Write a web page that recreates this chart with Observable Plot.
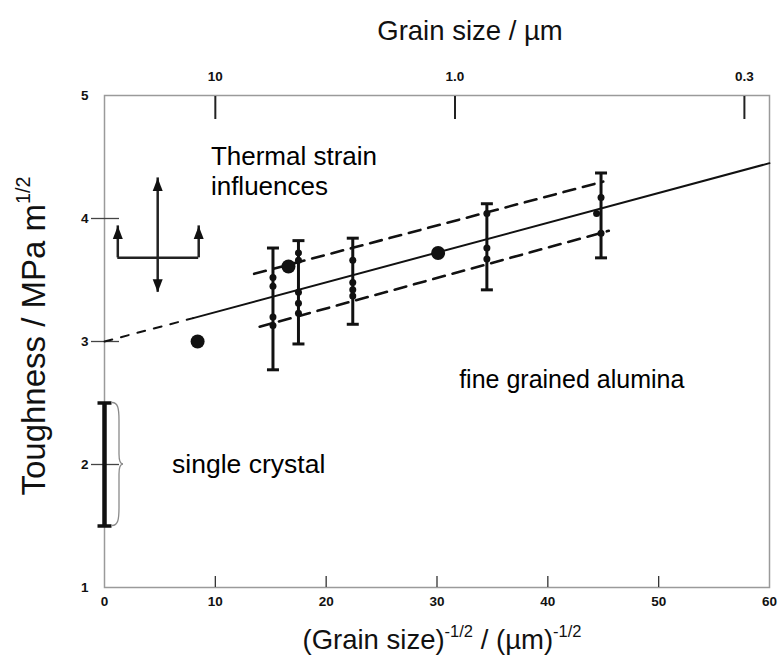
<!DOCTYPE html>
<html>
<head>
<meta charset="utf-8">
<script src="https://cdn.jsdelivr.net/npm/d3@7"></script>
<script src="https://cdn.jsdelivr.net/npm/@observablehq/plot@0.6"></script>
<style>
  body { margin: 0; background: #fff; font-family: Arial, "Liberation Sans", sans-serif; }
  #wrap { position: relative; width: 783px; height: 660px; }
  #chart { position: absolute; left: 0; top: 0; }
  .title { position: absolute; font-size: 27.5px; color: #111; white-space: nowrap; line-height: 1; }
  .title sup { font-size: 0.6em; vertical-align: 0.75em; line-height: 0; }
  #t-top { left: 470px; top: 31px; transform: translate(-50%, -50%); }
  #t-bottom { left: 442px; top: 640px; transform: translate(-50%, -50%); }
  #t-left { left: 33px; top: 336px; font-size: 33px; transform: translate(-50%, -50%) rotate(-90deg); }
</style>
</head>
<body>
<div id="wrap">
  <div id="chart"></div>
  <div class="title" id="t-top">Grain size / µm</div>
  <div class="title" id="t-bottom">(Grain size)<sup>-1/2</sup> / (µm)<sup>-1/2</sup></div>
  <div class="title" id="t-left">Toughness / MPa m<sup>1/2</sup></div>
</div>
<script>
// Axis ticks (tick marks are drawn only between the frame corners)
const xTicks = [0, 10, 20, 30, 40, 50, 60];
const xTickMarks = [10, 20, 30, 40, 50];
const yTicks = [1, 2, 3, 4, 5];
const yTickMarks = [2, 3, 4];
const grainSizeTicks = [10, 1.0, 0.3];          // µm
const grainSizeLabels = ["10", "1.0", "0.3"];
// lower-axis position of each grain size: (grain size in mm)^-1/2
const grainSizeTickX = grainSizeTicks.map(d => Math.sqrt(1000 / d));

// Fine grained alumina: scatter bands per grain size
const barX    = [15.2, 17.5, 22.4, 34.5, 44.8];
const barLow  = [2.77, 2.98, 3.14, 3.42, 3.68];
const barHigh = [3.76, 3.82, 3.84, 4.12, 4.37];

// Individual measurements on the bands
const pointX = [15.2, 15.2, 15.2, 15.2, 17.5, 17.5, 17.5, 17.5, 17.5, 22.4, 22.4, 22.4, 22.4, 34.5, 34.5, 34.5, 44.8, 44.4, 44.8];
const pointY = [3.52, 3.45, 3.20, 3.13, 3.72, 3.66, 3.40, 3.31, 3.23, 3.66, 3.48, 3.42, 3.37, 4.04, 3.76, 3.67, 4.17, 4.04, 3.88];

// Larger single results
const bigX = [8.4, 16.6, 30.1];
const bigY = [3.00, 3.61, 3.72];

// Trend line: extrapolated part, then fitted part
const trendExtX = [0, 8];
const trendExtY = [3.00, 3.19];
const trendFitX = [8, 60];
const trendFitY = [3.19, 4.45];

// Upper and lower scatter limits
const upperX = [13.5, 45.0];
const upperY = [3.55, 4.30];
const lowerX = [14.0, 45.5];
const lowerY = [3.12, 3.90];

// Single crystal range
const crystalX = [0];
const crystalLow = [1.5];
const crystalHigh = [2.5];

// Thermal strain arrows (stem from x, y0 to y1)
const arrowStemX = [4.8, 4.8, 1.2, 8.5];
const arrowStemY0 = [3.68, 3.68, 3.68, 3.68];
const arrowStemY1 = [4.33, 3.40, 3.94, 3.94];
const arrowBarX = [1.2, 8.5];
const arrowBarY = 3.68;

// Annotations
const notes = [
  {x: 9.6, y: 4.50, text: "Thermal strain", size: 26},
  {x: 9.6, y: 4.255, text: "influences", size: 26},
  {x: 32.0, y: 2.69, text: "fine grained alumina", size: 25},
  {x: 6.1, y: 2.00, text: "single crystal", size: 26.5}
];

const bars = barX.map((x, i) => ({x, low: barLow[i], high: barHigh[i]}));
const points = pointX.map((x, i) => ({x, y: pointY[i]}));
const bigPoints = bigX.map((x, i) => ({x, y: bigY[i]}));
const toPts = (xs, ys) => xs.map((x, i) => ({x, y: ys[i]}));
const crystal = crystalX.map((x, i) => ({x, low: crystalLow[i], high: crystalHigh[i]}));
const stems = arrowStemX.map((x, i) => ({x, y0: arrowStemY0[i], y1: arrowStemY1[i]}));

// custom symbols
const capSymbol = w => ({draw(ctx) { ctx.moveTo(-w, 0); ctx.lineTo(w, 0); }});
const headUp = {draw(ctx) { ctx.moveTo(0, 0); ctx.lineTo(5, 13); ctx.lineTo(-5, 13); ctx.closePath(); }};
const headDown = {draw(ctx) { ctx.moveTo(0, 0); ctx.lineTo(5, -13); ctx.lineTo(-5, -13); ctx.closePath(); }};

const ink = "#111";
const labelStyle = {fontWeight: "bold", fontSize: 13.5, label: null};

const chart = Plot.plot({
  width: 783,
  height: 660,
  marginLeft: 104,
  marginRight: 14,
  marginTop: 95,
  marginBottom: 73,
  x: {domain: [0, 60]},
  y: {domain: [1, 5]},
  style: {fontFamily: "Arial, 'Liberation Sans', sans-serif", background: "white", color: "#111"},
  marks: [
    Plot.frame({stroke: "#9a9a9a", strokeWidth: 1.5}),
    // bottom axis: inward ticks, labels below
    Plot.axisX({anchor: "bottom", ticks: xTickMarks, tickSize: 11, dy: -11, tickFormat: () => "", label: null, stroke: "#333", strokeWidth: 1.3}),
    Plot.axisX({anchor: "bottom", ticks: xTicks, tickSize: 0, tickPadding: 9, tickFormat: d => String(d), ...labelStyle}),
    // top axis: grain size, inward ticks
    Plot.axisX({anchor: "top", ticks: grainSizeTickX, tickSize: 23, dy: 23, tickFormat: () => "", label: null, stroke: "#222", strokeWidth: 2}),
    Plot.axisX({anchor: "top", ticks: grainSizeTickX, tickSize: 0, tickPadding: 15, tickFormat: (d, i) => grainSizeLabels[i], ...labelStyle}),
    // left axis: ticks crossing the frame
    Plot.axisY({anchor: "left", ticks: yTickMarks, tickSize: 28, dx: 15, tickFormat: () => "", label: null, stroke: "#444", strokeWidth: 1.3}),
    Plot.axisY({anchor: "left", ticks: yTicks, tickSize: 0, tickPadding: 16, tickFormat: d => String(d), ...labelStyle}),

    // trend line
    Plot.line(toPts(trendExtX, trendExtY), {x: "x", y: "y", stroke: ink, strokeWidth: 2, strokeDasharray: "8,9"}),
    Plot.line(toPts(trendFitX, trendFitY), {x: "x", y: "y", stroke: ink, strokeWidth: 2}),
    // scatter limits
    Plot.line(toPts(upperX, upperY), {x: "x", y: "y", stroke: ink, strokeWidth: 2.6, strokeDasharray: "12,8"}),
    Plot.line(toPts(lowerX, lowerY), {x: "x", y: "y", stroke: ink, strokeWidth: 2.6, strokeDasharray: "12,8"}),

    // error bars
    Plot.ruleX(bars, {x: "x", y1: "low", y2: "high", stroke: ink, strokeWidth: 3}),
    Plot.dot(bars, {x: "x", y: "low", symbol: capSymbol(6), stroke: ink, strokeWidth: 3}),
    Plot.dot(bars, {x: "x", y: "high", symbol: capSymbol(6), stroke: ink, strokeWidth: 3}),
    Plot.dot(points, {x: "x", y: "y", r: 3.5, fill: ink, stroke: "none"}),
    Plot.dot(bigPoints, {x: "x", y: "y", r: 7, fill: ink, stroke: "none"}),

    // single crystal
    Plot.ruleX(crystal, {x: "x", y1: "low", y2: "high", stroke: ink, strokeWidth: 4.5}),
    Plot.dot(crystal, {x: "x", y: "low", symbol: capSymbol(7), stroke: ink, strokeWidth: 3.5}),
    Plot.dot(crystal, {x: "x", y: "high", symbol: capSymbol(7), stroke: ink, strokeWidth: 3.5}),

    // thermal strain arrows
    Plot.ruleX(stems, {x: "x", y1: "y0", y2: "y1", stroke: "#222", strokeWidth: 2.5}),
    Plot.ruleY([arrowBarY], {x1: arrowBarX[0], x2: arrowBarX[1], stroke: "#222", strokeWidth: 2.5}),
    Plot.dot(stems.filter(d => d.y1 > d.y0), {x: "x", y: "y1", symbol: headUp, fill: "#111", stroke: "none"}),
    Plot.dot(stems.filter(d => d.y1 < d.y0), {x: "x", y: "y1", symbol: headDown, fill: "#111", stroke: "none"}),

    // annotations
    Plot.text(notes, {x: "x", y: "y", text: "text", textAnchor: "start", lineAnchor: "middle", fontSize: d => d.size, fill: "#000"})
  ]
});

document.getElementById("chart").appendChild(chart);

// curly brace beside the single-crystal range
const sx = chart.scale("x"), sy = chart.scale("y");
const bx = sx.apply(crystalX[0]) + 8;
const yT = sy.apply(crystalHigh[0]), yB = sy.apply(crystalLow[0]), yM = (yT + yB) / 2;
d3.select(chart).append("path")
  .attr("fill", "none")
  .attr("stroke", "#8a8a8a")
  .attr("stroke-width", 1.3)
  .attr("d", `M${bx},${yT} C${bx + 6},${yT} ${bx + 7},${yT + 6} ${bx + 7},${yT + 18}
    L${bx + 7},${yM - 10} C${bx + 7},${yM - 3} ${bx + 9},${yM} ${bx + 11},${yM}
    C${bx + 9},${yM} ${bx + 7},${yM + 3} ${bx + 7},${yM + 10}
    L${bx + 7},${yB - 18} C${bx + 7},${yB - 6} ${bx + 6},${yB} ${bx},${yB}`);
</script>
</body>
</html>
